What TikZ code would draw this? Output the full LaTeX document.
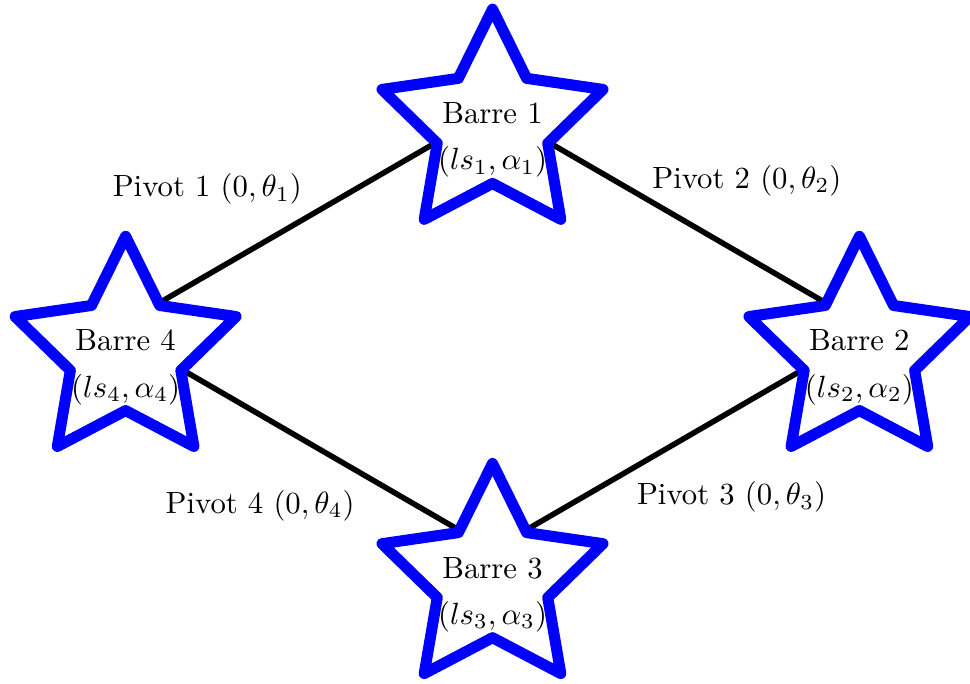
\documentclass[tikz,border=0pt]{standalone}
\usetikzlibrary{shapes.geometric, backgrounds}

\begin{document}
\begin{tikzpicture}[
        barre/.style={star, star points=5, star point ratio=2, minimum size=2.66cm, inner sep=0pt, draw=blue, line width=3.6pt, line join=round},
        link/.style={line width=1.8pt},
        barretext/.style={align=center, yshift=-1.7mm},
    ]
        \useasboundingbox (-5.638,-3.784) rectangle (5.466,4.035);

        % Bars as stars
        \node (b1) [barre, label={[barretext]center:Barre 1\\[3pt]$(ls_1,\alpha_1)$}] at (0,2.6) {};
        \node (b2) [barre, label={[barretext]center:Barre 2\\[3pt]$(ls_2,\alpha_2)$}] at (4.2,0) {};
        \node (b3) [barre, label={[barretext]center:Barre 3\\[3pt]$(ls_3,\alpha_3)$}] at (0,-2.6) {};
        \node (b4) [barre, label={[barretext]center:Barre 4\\[3pt]$(ls_4,\alpha_4)$}] at (-4.2,0) {};

        % Pivots between the bars
        \begin{scope}[on background layer]
        \draw [link] (b4.inner point 5) -- node[pos=0.565, above left, yshift=-0.5mm] {Pivot 1 $(0,\theta_1)$} (b1.inner point 2);
        \draw [link] (b1.inner point 4) -- node[pos=0.32, above right, yshift=-1.6mm] {Pivot 2 $(0,\theta_2)$} (b2.inner point 1);
        \draw [link] (b2.inner point 2) -- node[pos=0.65, below right, yshift=0.5mm] {Pivot 3 $(0,\theta_3)$} (b3.inner point 5);
        \draw [link] (b4.inner point 4) -- node[pos=0.675, below left] {Pivot 4 $(0,\theta_4)$} (b3.inner point 1);
        \end{scope}
    \end{tikzpicture}
\end{document}
